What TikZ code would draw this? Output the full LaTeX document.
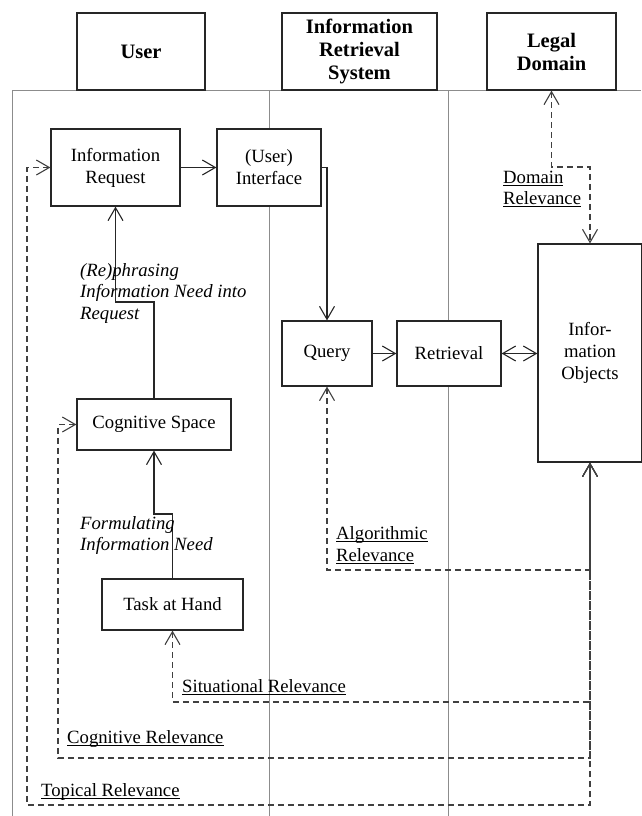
\documentclass[tikz,border=0pt]{standalone}
\usepackage{fontspec}
\setmainfont{Liberation Serif}
\usetikzlibrary{arrows.meta}
\newcommand\undl[1]{\setbox0\hbox{#1}\rlap{\rule[-2.6pt]{\wd0}{0.9pt}}\box0}
\begin{document}
\begin{tikzpicture}[x=1pt,y=-1pt,
  box/.style={draw=black!85, line width=1.2pt, fill=white, inner sep=0pt, align=center, font=\fontsize{18.7}{22}\selectfont},
  head/.style={box, font=\bfseries\fontsize{20.5}{23}\selectfont},
  lane/.style={draw=black!45, line width=0.9pt},
  barb/.tip={Straight Barb[length=13pt,width=15pt,line width=1.1pt]},
  conn/.style={line width=1.2pt, draw=black!85, -barb},
  dconn/.style={line width=1.1pt, draw=black!75, dash pattern=on 6pt off 4pt, barb-barb},
  lbl/.style={anchor=base west, inner sep=0pt, font=\fontsize{18.7}{22}\selectfont},
  ilbl/.style={lbl, font=\itshape\fontsize{18.7}{22}\selectfont}
]
\useasboundingbox (0,0) rectangle (641,816);
% swimlanes
\draw[lane] (12,816) -- (12,90) -- (641,90);
\draw[lane] (269,90) -- (269,816);
\draw[lane] (448,90) -- (448,816);
% headers
\node[head, minimum width=128pt, minimum height=77pt] (user) at (141,51.5) {User};
\node[head, minimum width=155pt, minimum height=77pt] (irs) at (359.5,51.5) {Information\\Retrieval\\System};
\node[head, minimum width=129pt, minimum height=77pt] (legal) at (551.5,51.5) {Legal\\Domain};
% boxes
\node[box, minimum width=129pt, minimum height=77pt] (inforeq) at (115.5,167.5) {Information\\Request};
\node[box, minimum width=104pt, minimum height=77pt] (iface) at (269,167.5) {(User)\\Interface};
\node[box, minimum width=90pt, minimum height=65pt] (query) at (327,353.5) {Query};
\node[box, minimum width=104pt, minimum height=65pt] (retr) at (449,353.5) {Retrieval};
\node[box, minimum width=104pt, minimum height=218pt] (infoobj) at (590,353) {Infor-\\mation\\Objects};
\node[box, minimum width=154pt, minimum height=51pt] (cog) at (154,424.5) {Cognitive Space};
\node[box, minimum width=141pt, minimum height=51pt] (task) at (172.5,604.5) {Task at Hand};
% solid connectors
\draw[conn] (inforeq) -- (iface);
\draw[conn] (iface.east) -| (query.north);
\draw[conn] (query) -- (retr);
\draw[line width=1.2pt, draw=black!85, barb-barb] (retr.east) -- (retr.east -| infoobj.west);
\coordinate (k1) at (154,302);
\draw[conn] (cog.north) -- (k1) -| (inforeq.south);
\coordinate (k2) at (172.5,514);
\draw[conn] (task.north) -- (k2) -| (cog.south);
% dashed relevance connectors
\coordinate (d1) at (590,167);
\draw[dconn] (legal.south) |- (d1) -- (infoobj.north);
\coordinate (a1) at (590,570);
\draw[dconn] (query.south) |- (a1) -- (infoobj.south);
\coordinate (s1) at (590,702);
\draw[dconn] (task.south) |- (s1) -- (infoobj.south);
\coordinate (c1) at (58,758);
\coordinate (c2) at (590,758);
\draw[dconn] (cog.west) -| (c1) -- (c2) -- (infoobj.south);
\coordinate (t1) at (27,805);
\coordinate (t2) at (590,805);
\draw[dconn] (inforeq.west) -| (t1) -- (t2) -- (infoobj.south);
% labels
\node[ilbl] (rp1) at (80,276) {(Re)phrasing};
\node[ilbl] (rp2) at (80,297.5) {Information Need into};
\node[ilbl] (rp3) at (80,319) {Request};
\node[ilbl] (fm1) at (80,529) {Formulating};
\node[ilbl] (fm2) at (80,550) {Information Need};
\node[lbl] (dr1) at (503,183) {\undl{Domain}};
\node[lbl] (dr2) at (503,204) {\undl{Relevance}};
\node[lbl] (ar1) at (336,539) {\undl{Algorithmic}};
\node[lbl] (ar2) at (336,561) {\undl{Relevance}};
\node[lbl] (sr) at (182,692) {\undl{Situational Relevance}};
\node[lbl] (cr) at (67,743) {\undl{Cognitive Relevance}};
\node[lbl] (tr) at (41,796) {\undl{Topical Relevance}};
\end{tikzpicture}
\end{document}
